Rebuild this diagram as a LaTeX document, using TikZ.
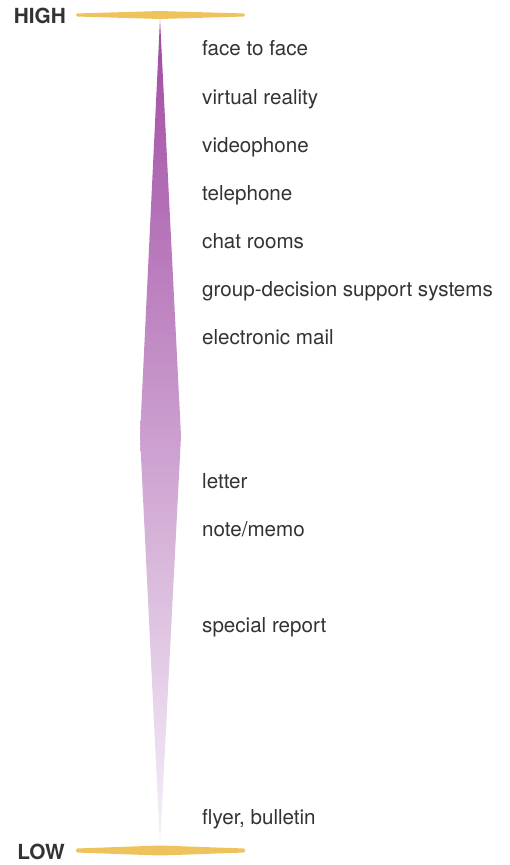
\documentclass[tikz,border=0pt]{standalone}
\usepackage{fontspec}
\setmainfont{TeX Gyre Heros}
\usetikzlibrary{positioning,calc}
\definecolor{barGold}{RGB}{239,195,92}
\definecolor{topPurple}{RGB}{160,74,163}
\definecolor{midPurple}{RGB}{192,142,197}
\definecolor{lowPurple}{RGB}{246,241,249}
\definecolor{labelGray}{RGB}{51,51,51}

\begin{document}
\begin{tikzpicture}[x=1pt, y=-1pt, font=\fontsize{20.6}{24}\selectfont,
  medium/.style={anchor=base west, text=labelGray, inner sep=0pt},
  level/.style={anchor=east, text=labelGray, font=\fontsize{20.8}{24}\selectfont\bfseries, inner sep=0pt}]
  \useasboundingbox (0,0) rectangle (509,865);
  % richness spindle
  \coordinate (top) at (160,19);
  \coordinate (bottom) at (160,846);
  \shade[top color=topPurple, middle color=midPurple, bottom color=lowPurple]
    (top) -- (181,436) -- (bottom) -- (140,436) -- cycle;
  % end bars
  \fill[barGold, rounded corners=1.5pt] (76,13.5) -- (160,11) -- (245,13.5) -- (245,16.5) -- (160,19) -- (76,16.5) -- cycle;
  \fill[barGold, rounded corners=1.5pt] (76,848.5) -- (160,845.5) -- (245,848.5) -- (245,852.5) -- (160,855.5) -- (76,852.5) -- cycle;
  \node[level] (high) at (66,16) {HIGH};
  \node[level] (low) at (65,852) {LOW};
  % media
  \node[medium] (face) at (202,55) {face to face};
  \node[medium] (vr) at (202,104) {virtual reality};
  \node[medium] (video) at (202,152) {videophone};
  \node[medium] (phone) at (202,200) {telephone};
  \node[medium] (chat) at (202,248) {chat rooms};
  \node[medium] (gdss) at (202,296) {group-decision support systems};
  \node[medium] (email) at (202,344) {electronic mail};
  \node[medium] (letter) at (202,488) {letter};
  \node[medium] (memo) at (202,536) {note/memo};
  \node[medium] (report) at (202,632) {special report};
  \node[medium] (flyer) at (202,824) {flyer, bulletin};
\end{tikzpicture}
\end{document}
